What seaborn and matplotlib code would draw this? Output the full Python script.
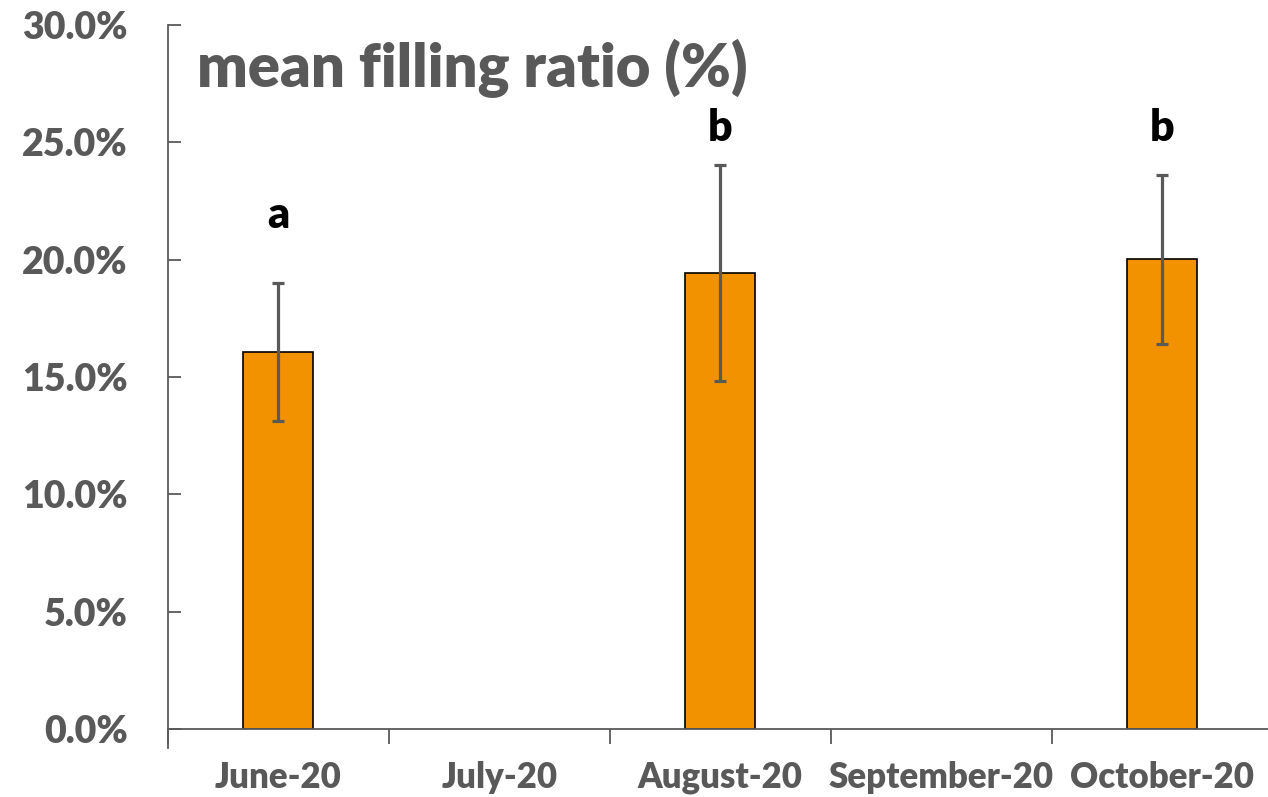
import numpy as np
import pandas as pd
import matplotlib
matplotlib.use("Agg")
import matplotlib.pyplot as plt
from matplotlib.ticker import FuncFormatter
import seaborn as sns

# Sampling months and mean filling ratio (%) with its error
months = ["June-20", "July-20", "August-20", "September-20", "October-20"]
mean_ratio = [16.06, np.nan, 19.43, np.nan, 20.02]
ratio_err = [2.95, np.nan, 4.62, np.nan, 3.6]
group_letters = ["a", "", "b", "", "b"]
letter_y = [21.9, np.nan, 25.6, np.nan, 25.6]
y_ticks = [0, 5, 10, 15, 20, 25, 30]

sns.set_theme(style="white")
plt.rcParams["font.family"] = ["Lato", "DejaVu Sans"]

GREY = "#595959"
ORANGE = "#F39200"
WEIGHT = "heavy"

df = pd.DataFrame({"month": months, "ratio": mean_ratio, "err": ratio_err})

fig = plt.figure(figsize=(12.68, 7.97), dpi=100)
ax = fig.add_axes([168 / 1268, 68 / 797, 1104.5 / 1268, 704 / 797])

sns.barplot(data=df, x="month", y="ratio", order=months, color=ORANGE,
            saturation=1, width=0.317, edgecolor="black", linewidth=1.2,
            errorbar=None, ax=ax)

xpos = np.arange(len(months))
ax.errorbar(xpos, df["ratio"], yerr=df["err"], fmt="none", ecolor=GREY,
            elinewidth=2.3, capsize=4.5, capthick=2.3, zorder=5)

for x, lab, ly in zip(xpos, group_letters, letter_y):
    if lab:
        ax.text(x, ly, lab, ha="center", va="center", fontsize=31,
                fontweight=WEIGHT, color="black")

ax.set_xlim(-0.5, len(months) - 0.5)
ax.set_ylim(0, 30)
ax.set_yticks(y_ticks)
ax.yaxis.set_major_formatter(FuncFormatter(lambda v, p: f"{v:.1f}%"))
ax.set_xlabel("")
ax.set_ylabel("")

# Category boundary ticks on the x axis
ax.set_xticks(xpos)
ax.set_xticks(np.arange(-0.5, len(months) - 0.4, 1.0), minor=True)
ax.tick_params(axis="x", which="major", length=0, pad=23, labelsize=25,
               labelcolor=GREY)
ax.tick_params(axis="x", which="minor", length=11, width=1.3, color=GREY,
               direction="out", bottom=True)
ax.tick_params(axis="y", which="major", length=9.5, width=1.3, color=GREY,
               direction="in", left=True, pad=29, labelsize=27,
               labelcolor=GREY)
for lab in ax.get_xticklabels() + ax.get_yticklabels():
    lab.set_fontweight(WEIGHT)

for side in ["top", "right"]:
    ax.spines[side].set_visible(False)
for side in ["left", "bottom"]:
    ax.spines[side].set_color(GREY)
    ax.spines[side].set_linewidth(1.3)
ax.spines["left"].set_bounds(-0.8, 30)

ax.text(197 / 1268, 1 - 68 / 797, "mean filling ratio (%)",
        transform=fig.transFigure, ha="left", va="center",
        fontsize=43, fontweight=WEIGHT, color=GREY)

fig.savefig("out.png", dpi=100)
